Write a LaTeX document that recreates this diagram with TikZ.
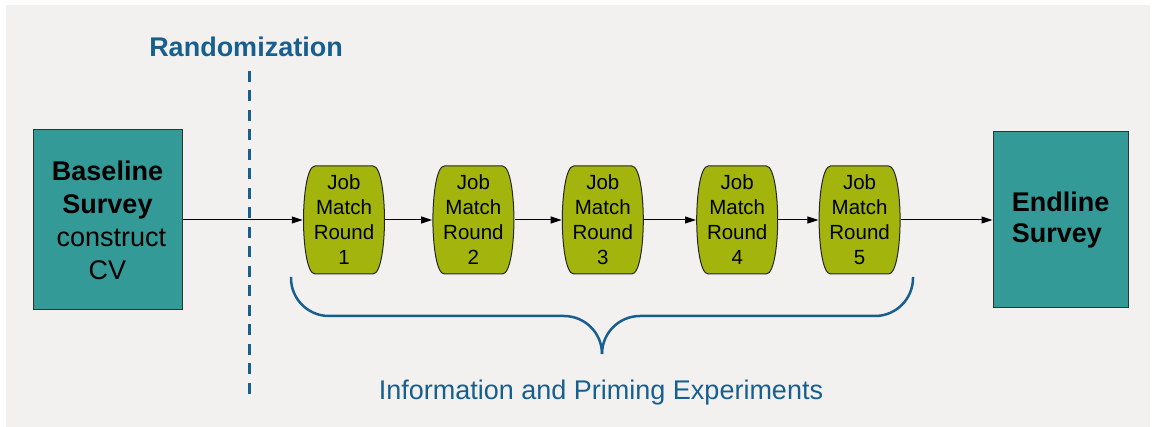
\documentclass[tikz,border=0pt]{standalone}
\usepackage{fontspec}
\setmainfont{Liberation Sans}
\usetikzlibrary{positioning, arrows.meta}

\definecolor{surveyteal}{HTML}{349A98}
\definecolor{roundgreen}{HTML}{A3B50D}
\definecolor{labelblue}{HTML}{175F8E}
\definecolor{panelgray}{HTML}{F2F1F0}

\begin{document}
\begin{tikzpicture}[
    x=1pt, y=-1pt,
    node distance=47pt,
    surveybox/.style={
        rectangle,
        draw=black!80,
        line width=1pt,
        fill=surveyteal,
        minimum width=149pt,
        minimum height=180pt,
        align=center,
        font=\fontsize{27}{33}\selectfont
    },
    matchbox/.style={
        rectangle,
        minimum width=82pt,
        minimum height=109pt,
        inner sep=0pt,
        align=center,
        font=\fontsize{20.5}{25}\selectfont,
        % barrel outline: flat top and bottom, bulging sides
        path picture={
            \coordinate (m) at (path picture bounding box.center);
            \filldraw[draw=black!85, fill=roundgreen, line width=1pt]
                ([xshift=-29pt,yshift=54pt]m) -- ([xshift=29pt,yshift=54pt]m)
                .. controls ([xshift=37pt,yshift=54pt]m) and ([xshift=40.5pt,yshift=24pt]m) .. ([xshift=40.5pt]m)
                .. controls ([xshift=40.5pt,yshift=-24pt]m) and ([xshift=37pt,yshift=-54pt]m) .. ([xshift=29pt,yshift=-54pt]m)
                -- ([xshift=-29pt,yshift=-54pt]m)
                .. controls ([xshift=-37pt,yshift=-54pt]m) and ([xshift=-40.5pt,yshift=-24pt]m) .. ([xshift=-40.5pt]m)
                .. controls ([xshift=-40.5pt,yshift=24pt]m) and ([xshift=-37pt,yshift=54pt]m) .. cycle;
        }
    },
    arrow/.style={
        -{Triangle[length=11pt,width=7pt]},
        line width=1pt,
        draw=black
    },
    divider/.style={
        draw=labelblue,
        line width=2.5pt,
        dash pattern=on 11pt off 8.5pt
    },
    bracepath/.style={
        draw=labelblue,
        line width=2.5pt,
        rounded corners=38pt
    },
    bluelabel/.style={
        text=labelblue,
        font=\fontsize{27}{33}\selectfont,
        inner sep=0pt,
        anchor=base
    }
]

\fill[white] (0,0) rectangle (1152,427);
\useasboundingbox (0,0) rectangle (1152,427);
\fill[panelgray] (6,5) rectangle (1150,427);

\node[surveybox] (baseline) at (107.5,220) {\textbf{Baseline}\\\textbf{Survey}\\\hspace*{.28em}construct\\CV};

\node[matchbox] (round1) at (344,220) {Job\\Match\\Round\\1};
\node[matchbox, right=of round1] (round2) {Job\\Match\\Round\\2};
\node[matchbox, right=of round2] (round3) {Job\\Match\\Round\\3};
\node[matchbox, right=52pt of round3] (round4) {Job\\Match\\Round\\4};
\node[matchbox, right=40pt of round4] (round5) {Job\\Match\\Round\\5};

\node[surveybox, minimum width=135pt, minimum height=176pt, align=left,
      font=\bfseries\fontsize{27}{31.5}\selectfont] (endline) at (1060.5,220) {Endline\\Survey};

\draw[arrow] (baseline) -- (round1);
\draw[arrow] (round1) -- (round2);
\draw[arrow] (round2) -- (round3);
\draw[arrow] (round3) -- (round4);
\draw[arrow] (round4) -- (round5);
\draw[arrow] (round5) -- (endline);

% randomization cut
\coordinate (randtop) at (249.3,71);
\coordinate (randbot) at (249.3,397);
\draw[divider] (randtop) -- (randbot);
\node[bluelabel, font=\bfseries\fontsize{27}{33}\selectfont] (randlabel) at (246,57) {Randomization};

% brace under the rounds
\coordinate (braceleft) at (291,277);
\coordinate (braceright) at (913,277);
\coordinate (bracemid) at (602,316);
\coordinate (bracetip) at (602,354);
\draw[bracepath] (braceleft) |- (bracemid) -- (bracetip);
\draw[bracepath] (braceright) |- (bracemid) -- (bracetip);

\node[bluelabel] (infolabel) at (601,399.5) {Information and Priming Experiments};

\end{tikzpicture}
\end{document}
